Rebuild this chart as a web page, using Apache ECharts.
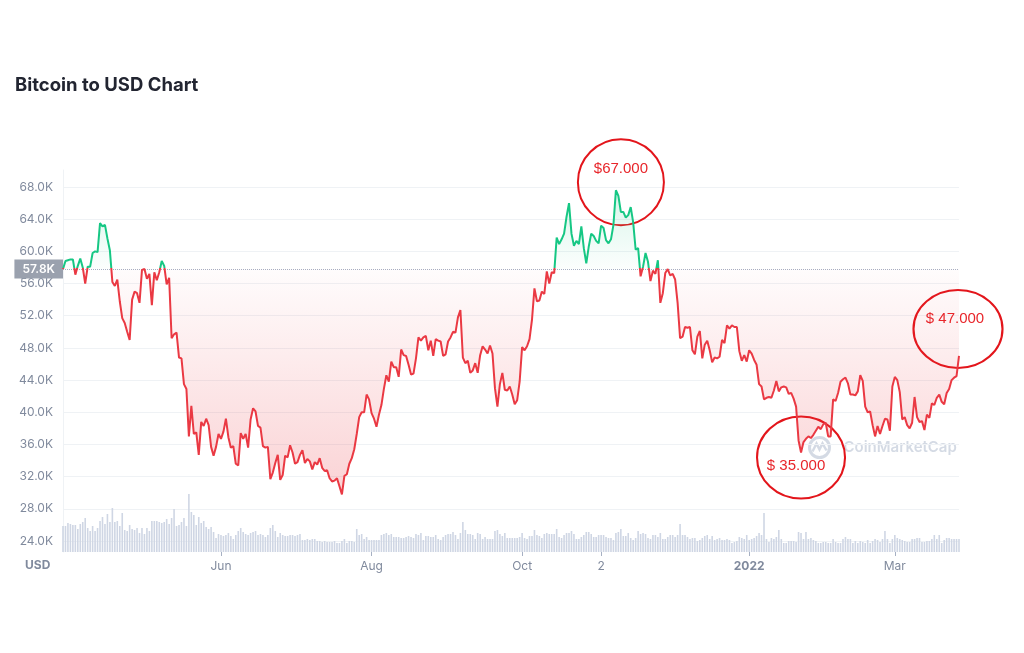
<!DOCTYPE html>
<html>
<head>
<meta charset="utf-8">
<script src="https://cdn.jsdelivr.net/npm/echarts@6/dist/echarts.min.js"></script>
<style>
  html, body { margin: 0; padding: 0; background: #ffffff; }
  #chart { width: 1024px; height: 653px; }
</style>
</head>
<body>
<div id="chart"></div>
<script>
// ---------- DATA ----------
const startDate = '2021-03-29';     // first daily point
const baselinePrice = 57800;        // dotted reference line (opening price)

// daily BTC price in USD, 2021-03-29 .. 2022-03-27
const prices = [
  57800,58800,58900,
  59000,59000,57100,58200,59100,58000,56000,58100,58100,59800,60000,59900,63500,63100,63300,61600,60100,56200,55700,56500,53800,51700,51100,50000,49000,54000,55000,54800,53600,57700,
  57800,56600,57200,53300,57400,56400,57400,58800,58200,55900,56700,49200,49700,49900,46800,46700,43500,42900,37000,40800,37300,37500,34700,38800,38300,39200,38400,35700,34600,35700,37300,
  36700,37600,39200,36900,35600,35800,33600,33400,37400,36700,37300,35600,39100,40500,40100,38300,38100,35800,35600,35700,31700,32500,33700,34700,31600,32200,34600,34400,35900,35000,
  33600,33800,34700,35300,33700,34200,33900,32900,33800,33500,34300,33100,32700,32800,31800,31400,31500,31800,30800,29800,32100,32300,33600,34300,35400,37300,39400,40000,40000,42200,41600,
  39900,39200,38200,39700,40900,42900,44600,43800,46300,45600,45600,44400,47800,47100,47000,45900,44700,44800,46700,49300,48900,49300,49500,47700,48900,47000,49100,48900,48800,47000,47200,
  48800,49300,50000,49900,51800,52700,46800,46100,46400,44900,45200,46100,44900,47100,48200,47800,47300,48300,47300,43000,40700,43500,44900,42800,42700,43200,42200,41000,41500,43800,
  48100,47700,48200,49100,51500,55400,53800,53900,55000,54700,57500,56000,57400,57300,61700,60900,61500,62200,64300,66000,62200,60700,61300,60900,63100,60400,58500,60600,62200,61900,61300,
  61000,63200,62900,61400,61000,61500,63300,67600,66900,64900,64900,64200,64500,65500,63600,60200,60400,56900,58100,59800,58700,56300,57600,57200,58900,53600,54800,57300,57800,57000,
  57200,56500,53600,49200,49400,50600,50500,50600,47700,47200,49400,50100,46700,48400,48900,47700,46200,46800,46700,46900,49000,48600,50800,50400,50800,50600,50600,47600,46400,47100,46300,
  47700,47300,46500,45900,43500,43200,41600,41800,41900,41800,42700,43900,42600,43100,43200,43100,42300,42400,41700,40700,36500,35000,36300,36700,37000,36800,37200,37700,38200,37900,38500,
  38700,37000,37000,41600,41400,42400,43800,44100,44300,43600,42200,42200,42100,42600,44600,43900,40700,40000,40100,38400,37000,38300,37300,38300,39200,39100,37700,43200,
  44400,44000,42500,39100,39400,38400,38000,38700,41900,39400,38800,38900,37800,39700,39300,41100,40900,41800,42200,41300,41000,42400,42900,44000,44300,44500,47000
];

// daily trading volume, billions USD
const volumes = [
  52,52,58,56,54,54,46,56,60,68, 48,42,52,42,48,62,70,56,76,60,
  88,60,62,52,78,44,42,54,46,44, 48,38,48,36,48,42,62,62,62,60,
  58,60,66,56,68,86,52,54,60,68, 52,116,80,74,54,70,58,62,50,46,
  50,40,28,36,34,32,34,38,32,26, 34,42,48,40,36,34,38,40,42,34,
  36,34,30,34,48,54,42,30,38,34, 32,32,34,34,32,34,36,24,24,26,
  24,26,26,22,22,20,22,20,20,20, 22,18,18,22,26,18,22,22,20,46,
  34,36,26,30,24,24,24,24,24,34, 36,38,34,36,30,30,30,28,28,30,
  32,30,28,36,34,38,24,32,32,30, 30,34,26,24,30,34,36,36,40,34,
  26,38,60,44,36,36,34,26,38,36, 26,30,26,26,26,42,44,36,32,38,
  28,28,28,28,28,30,38,28,26,32, 32,44,34,32,28,36,38,36,36,36,
  46,30,28,34,38,38,42,36,26,26, 30,34,40,40,36,30,30,34,34,34,
  30,28,28,24,38,40,46,32,32,38, 28,24,28,42,36,38,36,28,26,34,
  34,30,38,26,26,30,34,34,30,34, 56,34,34,30,26,28,28,22,24,28,
  32,34,26,32,24,26,28,24,24,26, 24,18,20,22,30,28,26,34,24,26,
  28,32,38,34,78,26,20,28,26,30, 44,26,18,18,22,22,22,20,40,38,
  26,40,26,28,24,22,18,18,20,20, 18,18,26,20,18,18,26,30,26,26,
  18,22,18,22,20,18,24,18,22,26, 24,20,26,42,26,18,26,34,28,26,
  24,22,20,20,26,26,28,28,20,20, 22,22,26,34,26,34,18,24,28,28,
  26,26,26,26
];

// x axis tick labels
const tickDates = ['2021-06-01','2021-08-01','2021-10-01','2021-11-02','2022-01-01','2022-03-01'];
const tickTexts = ['Jun','Aug','Oct','2','2022','Mar'];

// y axis ticks
const yMin = 24000, yMax = 68000, yStep = 4000;

// hand-drawn annotations
const noteDates = ['2021-11-08','2022-01-22','2022-03-27'];
const noteTexts = ['$67.000','$ 35.000','$ 47.000'];

// ---------- BUILD ----------
function buildDates(start, n) {
  const p = start.split('-').map(Number);
  const t0 = Date.UTC(p[0], p[1] - 1, p[2]);
  const out = [];
  for (let i = 0; i < n; i++) out.push(new Date(t0 + i * 86400000).toISOString().slice(0, 10));
  return out;
}
const dates = buildDates(startDate, prices.length);

const GREEN = '#16c784', RED = '#ea3943';
const maxP = Math.max(...prices), minP = Math.min(...prices);
// the line / area bounding box spans [minP, maxP]; split colours at the baseline
const split = (maxP - baselinePrice) / (maxP - minP);

const noteStyles = [
  { size: [86, 86], offset: [5, -8],  labelOffset: [0, -13] },
  { size: [88, 82], offset: [0, 5],   labelOffset: [-5, 8] },
  { size: [89, 78], offset: [-1, -27], labelOffset: [-3, -10] }
];
const notePoints = noteDates.map((d, i) => ({
  coord: [d, prices[dates.indexOf(d)]],
  symbol: 'path://M0,50A50,50,0,1,1,100,50A50,50,0,1,1,0,50Z',
  symbolKeepAspect: false,
  symbolSize: noteStyles[i].size,
  symbolOffset: noteStyles[i].offset,
  itemStyle: { color: 'transparent', borderColor: '#e3151b', borderWidth: 2 },
  label: {
    show: true, position: 'inside', formatter: noteTexts[i],
    offset: noteStyles[i].labelOffset,
    color: '#e8262b', fontSize: 15, fontFamily: 'Liberation Sans'
  }
}));

const chart = echarts.init(document.getElementById('chart'), null, { renderer: 'canvas' });

const option = {
  animation: false,
  backgroundColor: '#ffffff',
  title: {
    text: 'Bitcoin to USD Chart',
    left: 15, top: 76, padding: 0,
    textStyle: { fontFamily: 'Inter', fontSize: 18.5, fontWeight: 700, color: '#222531' }
  },
  grid: [
    { left: 63, right: 65, top: 187, bottom: 112 },
    { left: 63, right: 65, top: 170, bottom: 101 }
  ],
  xAxis: [
    { type: 'category', gridIndex: 0, data: dates, boundaryGap: false, show: false },
    {
      type: 'category', gridIndex: 1, data: dates, boundaryGap: false,
      axisLine: { show: false },
      axisTick: {
        show: true, length: 4, interval: (i, v) => tickDates.includes(v),
        lineStyle: { color: '#a6b0c3' }
      },
      axisLabel: {
        interval: (i, v) => tickDates.includes(v),
        formatter: v => {
          const t = tickTexts[tickDates.indexOf(v)];
          return t === '2022' ? '{b|' + t + '}' : t;
        },
        margin: 8,
        color: '#808a9d', fontSize: 12, fontFamily: 'Inter',
        rich: { b: { fontWeight: 700, color: '#808a9d', fontSize: 12, fontFamily: 'Inter' } }
      },
      splitLine: { show: false }
    }
  ],
  yAxis: [
    {
      type: 'value', gridIndex: 0, min: yMin, max: yMax, interval: yStep,
      axisLine: { show: false }, axisTick: { show: false },
      axisLabel: {
        formatter: v => (v / 1000).toFixed(1) + 'K',
        color: '#808a9d', fontSize: 12, fontFamily: 'Inter', margin: 10
      },
      splitLine: { lineStyle: { color: '#eff2f5', width: 1 } }
    },
    {
      type: 'value', gridIndex: 1, min: 0, max: 764,
      axisLine: { show: true, lineStyle: { color: '#eff2f5' } },
      axisTick: { show: false }, axisLabel: { show: false },
      splitLine: { show: false }
    }
  ],
  series: [
    {
      name: 'Price', type: 'line', xAxisIndex: 0, yAxisIndex: 0,
      data: prices, showSymbol: false, symbol: 'none', z: 5,
      lineStyle: {
        width: 2,
        color: new echarts.graphic.LinearGradient(0, 0, 0, 1, [
          { offset: 0, color: GREEN },
          { offset: split, color: GREEN },
          { offset: split, color: RED },
          { offset: 1, color: RED }
        ])
      },
      areaStyle: {
        origin: baselinePrice,
        color: new echarts.graphic.LinearGradient(0, 0, 0, 1, [
          { offset: 0, color: 'rgba(22,199,132,0.24)' },
          { offset: split, color: 'rgba(22,199,132,0.02)' },
          { offset: split, color: 'rgba(234,57,67,0.02)' },
          { offset: 1, color: 'rgba(234,57,67,0.32)' }
        ])
      },
      markLine: {
        silent: true, symbol: ['none', 'none'],
        lineStyle: { type: 'dotted', color: '#a6b0c3', width: 1 },
        label: {
          show: true, position: 'start', distance: 0,
          formatter: (baselinePrice / 1000).toFixed(1) + 'K',
          color: '#ffffff', fontSize: 12, fontWeight: 600, fontFamily: 'Inter',
          backgroundColor: '#9aa1ae', padding: [3, 8], lineHeight: 13
        },
        data: [{ yAxis: baselinePrice }]
      },
      markPoint: { silent: true, data: notePoints }
    },
    {
      name: 'Volume', type: 'bar', xAxisIndex: 1, yAxisIndex: 1,
      data: volumes, barWidth: 1.6, z: 1,
      itemStyle: { color: '#cfd6e4' }
    }
  ],
  graphic: [
    {
      type: 'text', left: 25, top: 559,
      style: { text: 'USD', fill: '#808a9d', font: '700 12px Inter' }
    },
    {
      type: 'group', left: 807, top: 435, silent: true,
      children: [
        { type: 'circle', shape: { cx: 11, cy: 11, r: 10 }, style: { fill: 'none', stroke: 'rgba(176,188,206,0.55)', lineWidth: 3 } },
        { type: 'polyline', shape: { points: [[4, 15], [8, 7], [11, 13], [14, 7], [18, 14]] }, style: { fill: 'none', stroke: 'rgba(176,188,206,0.55)', lineWidth: 2.5 } },
        { type: 'text', x: 35, y: 3, style: { text: 'CoinMarketCap', fill: 'rgba(176,188,206,0.55)', font: '600 15px Inter' } }
      ]
    }
  ]
};
chart.setOption(option);
</script>
</body>
</html>
